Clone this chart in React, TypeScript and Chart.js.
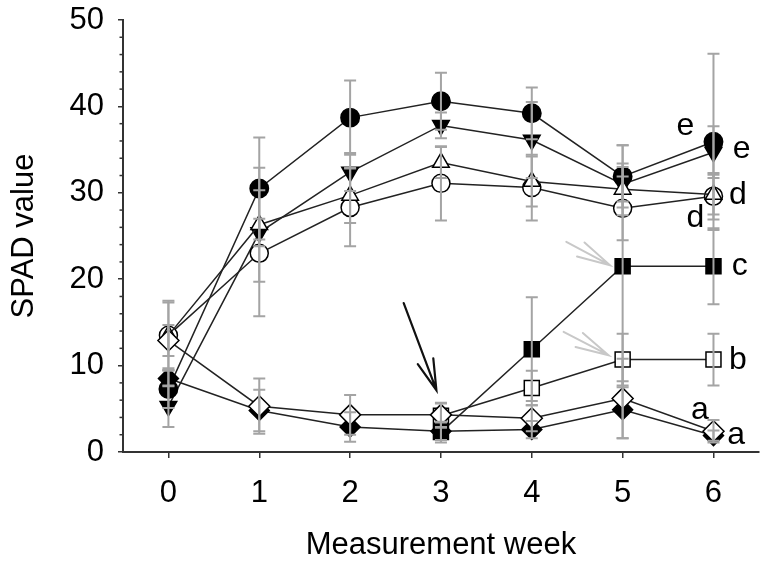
import React, { useEffect, useRef } from 'react';
import { Chart, registerables } from 'chart.js';

Chart.register(...registerables);

// ---------- data ----------
const weeks = [0, 1, 2, 3, 4, 5, 6];

const filledCircle = [7.3, 30.5, 38.7, 40.6, 39.2, 31.9, 35.9];
const filledCircleErr = [2.2, 5.9, 4.3, 3.3, 3.0, 3.6, 10.2];

const filledTriangleDown = [5.3, 25.4, 32.4, 37.8, 36.1, 31.0, 34.7];
const filledTriangleDownErr = [2.4, 1.6, 2.2, 1.5, 4.4, 2.0, 3.0];

const openTriangle = [13.5, 26.3, 29.7, 33.5, 31.3, 30.4, 29.8];
const openTriangleErr = [3.8, 6.6, 3.2, 1.8, 2.9, 3.0, 2.3];

const openCircle = [13.5, 23.0, 28.3, 31.1, 30.6, 28.2, 29.6];
const openCircleErr = [4.0, 7.3, 4.5, 4.3, 3.8, 3.7, 2.7];

const filledSquare = [null, null, null, 2.3, 11.9, 21.5, 21.5];
const filledSquareErr = [null, null, null, 1.2, 6.0, 14.0, 4.4];

const openSquare = [null, null, null, 4.2, 7.4, 10.7, 10.7];
const openSquareErr = [null, null, null, 1.4, 2.0, 3.0, 3.0];

const openDiamond = [12.9, 5.3, 4.3, 4.3, 3.9, 6.2, 2.4];
const openDiamondErr = [1.8, 3.2, 2.3, 1.4, 1.5, 4.6, 1.3];

const filledDiamond = [8.5, 4.8, 2.9, 2.4, 2.6, 4.9, 1.9];
const filledDiamondErr = [0.9, 2.4, 1.7, 1.0, 1.0, 3.3, 0.6];

const yMajorTicks = [0, 10, 20, 30, 40, 50];
const yMinorTicks = [2, 4, 6, 8, 12, 14, 16, 18, 22, 24, 26, 28, 32, 34, 36, 38, 42, 44, 46, 48];

// significance letters (data coordinates)
const letterText = ['e', 'e', 'd', 'd', 'c', 'b', 'a', 'a'];
const letterX = [5.69, 6.31, 6.27, 5.80, 6.29, 6.27, 5.85, 6.25];
const letterY = [37.7, 35.0, 29.7, 27.1, 21.5, 10.6, 4.8, 1.9];

// arrows (data coordinates)
const arrowFromX = [2.59, 4.38, 4.35];
const arrowFromY = [17.23, 24.33, 13.9];
const arrowToX = [2.95, 4.86, 4.845];
const arrowToY = [7.15, 21.63, 11.2];
const arrowColor = ['#111111', '#c8c8c8', '#c8c8c8'];

const FONT = "'Liberation Sans', Arial, Helvetica, sans-serif";
const LINE = '#222222';

function pts(vals: (number | null)[]) {
  return weeks.map((w, i) => ({ x: w, y: vals[i] }));
}

const errorBarPlugin = {
  id: 'errorBars',
  afterDatasetsDraw(chart: any) {
    const { ctx, scales } = chart;
    const xs = scales.x;
    const ys = scales.y;
    ctx.save();
    ctx.strokeStyle = '#a4a4a4';
    ctx.lineWidth = 2;
    chart.data.datasets.forEach((ds: any) => {
      const errs = ds.errorBars;
      if (!errs) return;
      ds.data.forEach((p: any, i: number) => {
        if (p.y == null || errs[i] == null) return;
        const px = xs.getPixelForValue(p.x);
        const top = ys.getPixelForValue(p.y + errs[i]);
        const bot = ys.getPixelForValue(p.y - errs[i]);
        ctx.beginPath();
        ctx.moveTo(px, top);
        ctx.lineTo(px, bot);
        ctx.moveTo(px - 6, top);
        ctx.lineTo(px + 6, top);
        ctx.moveTo(px - 6, bot);
        ctx.lineTo(px + 6, bot);
        ctx.stroke();
      });
    });
    ctx.restore();
  },
};

const decorPlugin = {
  id: 'decor',
  afterDraw(chart: any) {
    const { ctx, scales, chartArea } = chart;
    const xs = scales.x;
    const ys = scales.y;
    ctx.save();
    // minor y ticks
    ctx.strokeStyle = '#333333';
    ctx.lineWidth = 1.5;
    yMinorTicks.forEach((v) => {
      const py = ys.getPixelForValue(v);
      ctx.beginPath();
      ctx.moveTo(chartArea.left - 3.5, py);
      ctx.lineTo(chartArea.left, py);
      ctx.stroke();
    });
    // letters
    ctx.fillStyle = '#000';
    ctx.font = `32px ${FONT}`;
    ctx.textAlign = 'center';
    ctx.textBaseline = 'middle';
    letterText.forEach((t, i) => {
      ctx.fillText(t, xs.getPixelForValue(letterX[i]), ys.getPixelForValue(letterY[i]));
    });
    // arrows
    arrowFromX.forEach((_, i) => {
      const x0 = xs.getPixelForValue(arrowFromX[i]);
      const y0 = ys.getPixelForValue(arrowFromY[i]);
      const x1 = xs.getPixelForValue(arrowToX[i]);
      const y1 = ys.getPixelForValue(arrowToY[i]);
      const ang = Math.atan2(y0 - y1, x0 - x1);
      const headLen = i === 0 ? 32 : 34;
      const half = (i === 0 ? 15 : 13.5) * Math.PI / 180;
      ctx.strokeStyle = arrowColor[i];
      ctx.lineWidth = i === 0 ? 2.2 : 2;
      ctx.lineCap = 'round';
      ctx.beginPath();
      ctx.moveTo(x0, y0);
      ctx.lineTo(x1, y1);
      ctx.moveTo(x1 + Math.cos(ang + half) * headLen, y1 + Math.sin(ang + half) * headLen);
      ctx.lineTo(x1, y1);
      ctx.lineTo(x1 + Math.cos(ang - half) * headLen, y1 + Math.sin(ang - half) * headLen);
      ctx.stroke();
    });
    ctx.restore();
  },
};

export default function App() {
  const ref = useRef<HTMLCanvasElement | null>(null);

  useEffect(() => {
    document.body.style.margin = '0';
    const canvas = ref.current;
    if (!canvas) return;

    const mk = (
      label: string,
      vals: (number | null)[],
      errs: (number | null)[],
      style: string,
      radius: number,
      fill: string,
      order: number,
      rotation = 0
    ) => ({
      label,
      data: pts(vals),
      errorBars: errs,
      borderColor: LINE,
      borderWidth: 1.5,
      pointStyle: style,
      pointRadius: radius,
      pointRotation: rotation,
      pointBackgroundColor: fill,
      pointBorderColor: '#000',
      pointBorderWidth: 1.5,
      spanGaps: false,
      fill: false,
      tension: 0,
      order,
    });

    const chart = new Chart(canvas, {
      type: 'line',
      data: {
        datasets: [
          mk('open diamond', openDiamond, openDiamondErr, 'rectRot', 10.5, '#ffffff', 0),
          mk('filled diamond', filledDiamond, filledDiamondErr, 'rectRot', 10, '#000000', 1),
          mk('open square', openSquare, openSquareErr, 'rect', 10.6, '#ffffff', 2),
          mk('filled square', filledSquare, filledSquareErr, 'rect', 10.6, '#000000', 3),
          mk('open triangle', openTriangle, openTriangleErr, 'triangle', 9.6, '#ffffff', 4),
          mk('open circle', openCircle, openCircleErr, 'circle', 9, '#ffffff', 5),
          mk('filled circle', filledCircle, filledCircleErr, 'circle', 9.2, '#000000', 6),
          mk('filled triangle', filledTriangleDown, filledTriangleDownErr, 'triangle', 9.6, '#000000', 7, 180),
        ] as any,
      },
      options: {
        responsive: false,
        animation: false,
        devicePixelRatio: 1,
        events: [],
        layout: { padding: { left: 0, top: 20, right: 9, bottom: 0 } },
        plugins: {
          legend: { display: false },
          tooltip: { enabled: false },
        },
        scales: {
          x: {
            type: 'linear',
            position: 'bottom',
            min: -0.5,
            max: 6.5,
            afterBuildTicks: (axis: any) => {
              axis.ticks = weeks.map((v) => ({ value: v }));
            },
            afterFit: (s: any) => {
              s.height = 115;
              s.paddingLeft = 0;
              s.paddingRight = 0;
            },
            grid: {
              display: true,
              drawOnChartArea: false,
              drawTicks: true,
              tickLength: 6,
              color: '#333333',
              lineWidth: 1.5,
            },
            border: { display: true, color: '#333333', width: 2 },
            ticks: {
              color: '#000',
              font: { family: FONT, size: 31 },
              padding: 17,
              maxRotation: 0,
              autoSkip: false,
            },
            title: {
              display: true,
              text: 'Measurement week',
              color: '#000',
              font: { family: FONT, size: 31 },
              padding: { top: 0, bottom: 3 },
            },
          },
          y: {
            type: 'linear',
            min: 0,
            max: 50,
            afterBuildTicks: (axis: any) => {
              axis.ticks = yMajorTicks.map((v) => ({ value: v }));
            },
            afterFit: (s: any) => {
              s.width = 123;
              s.paddingTop = 0;
              s.paddingBottom = 0;
            },
            grid: {
              display: true,
              drawOnChartArea: false,
              drawTicks: true,
              tickLength: 5,
              color: '#333333',
              lineWidth: 1.5,
            },
            border: { display: true, color: '#333333', width: 2 },
            ticks: {
              color: '#000',
              font: { family: FONT, size: 31 },
              padding: 14,
            },
            title: {
              display: true,
              text: 'SPAD value',
              color: '#000',
              font: { family: FONT, size: 31 },
              padding: { top: 6, bottom: 0 },
            },
          },
        },
      },
      plugins: [errorBarPlugin, decorPlugin],
    } as any);

    return () => chart.destroy();
  }, []);

  return (
    <div style={{ width: 771, height: 567 }}>
      <canvas ref={ref} width={771} height={567} style={{ display: 'block' }} />
    </div>
  );
}
